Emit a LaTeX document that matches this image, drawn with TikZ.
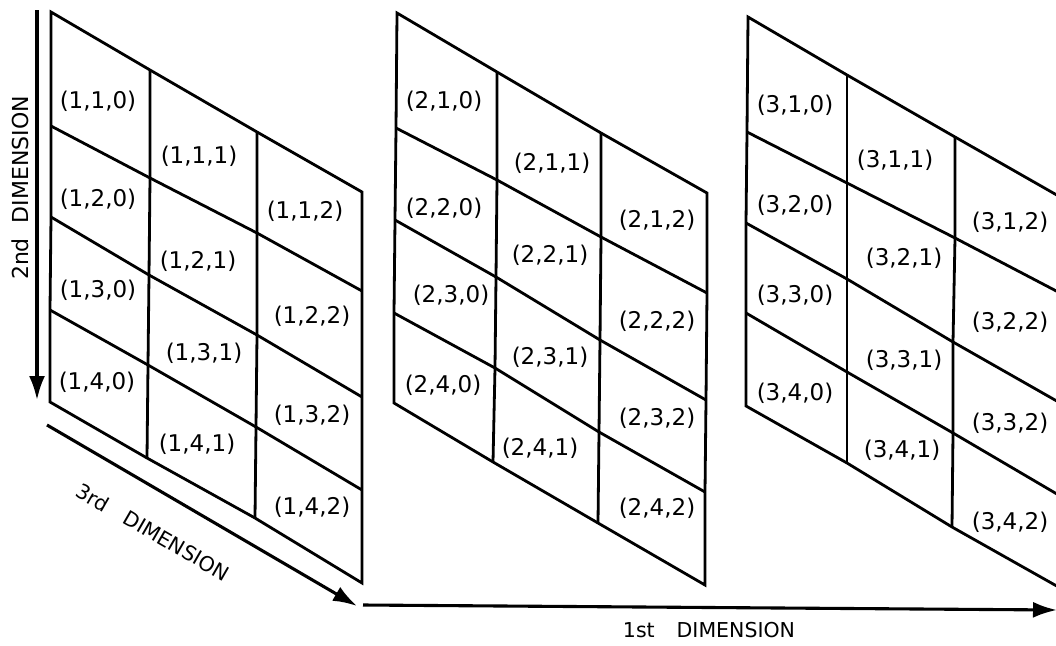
\documentclass[tikz,border=0pt]{standalone}
\usepackage{fontspec}
\setmainfont{DejaVu Sans}
\usetikzlibrary{arrows.meta}
\tikzset{
  gridline/.style={line width=2.8pt, line join=miter},
  cell/.style={inner sep=0pt, font=\fontsize{23}{23}\selectfont},
  dimlabel/.style={inner sep=0pt, font=\fontsize{20.5}{20.5}\selectfont},
  dimarrow/.style={line width=3.1pt, -{Latex[length=24pt,width=16pt]}},
}
\begin{document}
\begin{tikzpicture}[x=1pt,y=-1pt]
\useasboundingbox (0,0) rectangle (1056,645);
% ---- panel 1 grid points (row, column)
\coordinate (A00) at (51,12);  \coordinate (A01) at (150,70);  \coordinate (A02) at (257,132); \coordinate (A03) at (362,192);
\coordinate (A10) at (51,126); \coordinate (A11) at (150,178); \coordinate (A12) at (257,233); \coordinate (A13) at (362,291);
\coordinate (A20) at (51,217); \coordinate (A21) at (149,275); \coordinate (A22) at (257,335); \coordinate (A23) at (362,397);
\coordinate (A30) at (50,310); \coordinate (A31) at (148,365); \coordinate (A32) at (256,427); \coordinate (A33) at (362,490);
\coordinate (A40) at (50,402); \coordinate (A41) at (147,458); \coordinate (A42) at (255,518); \coordinate (A43) at (362,583);
% ---- panel 2
\coordinate (B00) at (397,13);  \coordinate (B01) at (497,72);  \coordinate (B02) at (601,133); \coordinate (B03) at (707,193);
\coordinate (B10) at (396,128); \coordinate (B11) at (497,180); \coordinate (B12) at (601,237); \coordinate (B13) at (707,293);
\coordinate (B20) at (395,220); \coordinate (B21) at (496,277); \coordinate (B22) at (600,340); \coordinate (B23) at (706,400);
\coordinate (B30) at (394,313); \coordinate (B31) at (495,368); \coordinate (B32) at (599,432); \coordinate (B33) at (705,492);
\coordinate (B40) at (394,403); \coordinate (B41) at (493,462); \coordinate (B42) at (598,523); \coordinate (B43) at (705,585);
% ---- panel 3 (right edge falls past the page)
\coordinate (C00) at (748,17);  \coordinate (C01) at (847,75);  \coordinate (C02) at (955,137); \coordinate (C03) at (1062,198);
\coordinate (C10) at (747,132); \coordinate (C11) at (847,183); \coordinate (C12) at (955,238); \coordinate (C13) at (1062,294);
\coordinate (C20) at (746,223); \coordinate (C21) at (847,279); \coordinate (C22) at (953,342); \coordinate (C23) at (1062,404);
\coordinate (C30) at (746,313); \coordinate (C31) at (847,372); \coordinate (C32) at (953,433); \coordinate (C33) at (1062,497);
\coordinate (C40) at (746,406); \coordinate (C41) at (847,463); \coordinate (C42) at (952,527); \coordinate (C43) at (1062,589);

\foreach \p in {A,B,C}{
  \draw[gridline] (\p00)--(\p01)--(\p02)--(\p03)--(\p13)--(\p23)--(\p33)--(\p43)--(\p42)--(\p41)--(\p40)--(\p30)--(\p20)--(\p10)--cycle;
  \foreach \r in {1,2,3}{
    \draw[gridline] (\p\r0)--(\p\r1)--(\p\r2)--(\p\r3);
  }
  \foreach \c in {1,2}{
    \draw[gridline] (\p0\c)--(\p1\c)--(\p2\c)--(\p3\c)--(\p4\c);
  }
}

% ---- cell labels, panel 1
\node[cell] (c110) at (98,101)  {(1,1,0)};
\node[cell] (c111) at (199,156) {(1,1,1)};
\node[cell] (c112) at (305,211) {(1,1,2)};
\node[cell] (c120) at (98,199)  {(1,2,0)};
\node[cell] (c121) at (198,261) {(1,2,1)};
\node[cell] (c122) at (312,316) {(1,2,2)};
\node[cell] (c130) at (98,290)  {(1,3,0)};
\node[cell] (c131) at (204,353) {(1,3,1)};
\node[cell] (c132) at (312,415) {(1,3,2)};
\node[cell] (c140) at (97,382)  {(1,4,0)};
\node[cell] (c141) at (197,444) {(1,4,1)};
\node[cell] (c142) at (312,507) {(1,4,2)};
% ---- panel 2
\node[cell] (c210) at (444,101) {(2,1,0)};
\node[cell] (c211) at (552,163) {(2,1,1)};
\node[cell] (c212) at (657,220) {(2,1,2)};
\node[cell] (c220) at (444,208) {(2,2,0)};
\node[cell] (c221) at (550,255) {(2,2,1)};
\node[cell] (c222) at (657,321) {(2,2,2)};
\node[cell] (c230) at (451,295) {(2,3,0)};
\node[cell] (c231) at (550,357) {(2,3,1)};
\node[cell] (c232) at (657,418) {(2,3,2)};
\node[cell] (c240) at (443,385) {(2,4,0)};
\node[cell] (c241) at (540,448) {(2,4,1)};
\node[cell] (c242) at (657,508) {(2,4,2)};
% ---- panel 3
\node[cell] (c310) at (795,105)  {(3,1,0)};
\node[cell] (c311) at (895,160)  {(3,1,1)};
\node[cell] (c312) at (1010,222) {(3,1,2)};
\node[cell] (c320) at (795,205)  {(3,2,0)};
\node[cell] (c321) at (904,258)  {(3,2,1)};
\node[cell] (c322) at (1010,322) {(3,2,2)};
\node[cell] (c330) at (795,295)  {(3,3,0)};
\node[cell] (c331) at (904,360)  {(3,3,1)};
\node[cell] (c332) at (1010,423) {(3,3,2)};
\node[cell] (c340) at (795,393)  {(3,4,0)};
\node[cell] (c341) at (902,450)  {(3,4,1)};
\node[cell] (c342) at (1010,522) {(3,4,2)};

% ---- dimension arrows
\coordinate (v1) at (37,10);   \coordinate (v2) at (37,400);
\coordinate (t1) at (47,425);  \coordinate (t2) at (357,606);
\coordinate (f1) at (363,605); \coordinate (f2) at (1057,610);
\draw[dimarrow] (v1) -- (v2);
\draw[dimarrow] (t1) -- (t2);
\draw[dimarrow] (f1) -- (f2);

% ---- dimension labels
\node[dimlabel, font=\fontsize{22}{22}\selectfont, rotate=90] (l2) at (20,188) {2nd\hspace{15pt}DIMENSION};
\node[dimlabel, rotate=-30] (l3) at (153,532) {3rd\hspace{20pt}DIMENSION};
\node[dimlabel] (l1) at (709,630) {1st\hspace{22pt}DIMENSION};
\end{tikzpicture}
\end{document}
